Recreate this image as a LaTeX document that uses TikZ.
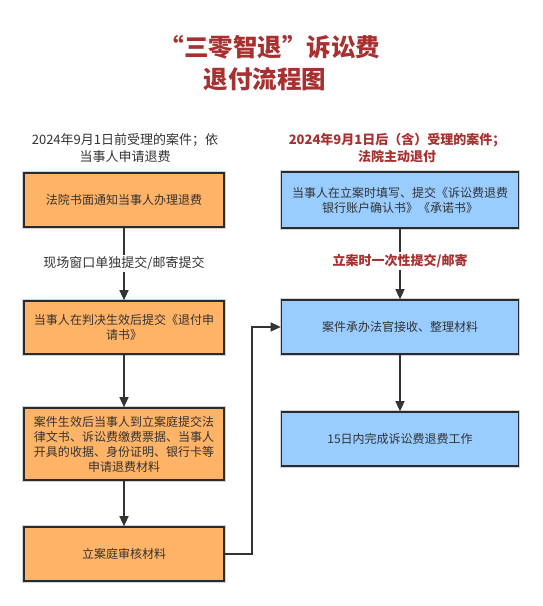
\documentclass[tikz,border=0pt]{standalone}
\usepackage{fontspec}
\setmainfont{Noto Sans CJK SC}
\usetikzlibrary{arrows.meta}
\definecolor{titlered}{RGB}{168,48,48}
\definecolor{txtgray}{RGB}{51,51,51}
\definecolor{boxorange}{RGB}{255,179,102}
\definecolor{boxblue}{RGB}{153,204,255}
\definecolor{edgedark}{RGB}{40,44,48}
\tikzset{
  box/.style={draw=edgedark, line width=1.6bp, text=txtgray, align=center,
    font=\fontsize{12bp}{15bp}\selectfont, inner sep=0pt,
    preaction={draw=gray!35, line width=3.2bp}},
  obox/.style={box, fill=boxorange, minimum width=200bp},
  bbox/.style={box, fill=boxblue, minimum width=237bp},
  conn/.style={draw=txtgray, line width=1.3bp, -{Triangle[length=10bp,width=9bp]}},
  titletext/.style={text=titlered, font=\fontsize{24.5bp}{28bp}\selectfont\bfseries, inner sep=0pt},
  headgray/.style={text=txtgray, align=center, font=\fontsize{13bp}{17bp}\selectfont, inner sep=0pt},
  headred/.style={text=titlered, align=center, font=\fontsize{13bp}{17bp}\selectfont\bfseries, inner sep=0pt},
  lbl/.style={fill=white, inner sep=2bp, font=\fontsize{13bp}{15bp}\selectfont}
}
\begin{document}
\begin{tikzpicture}[x=1bp, y=-1bp]
\useasboundingbox[fill=white] (0,0) rectangle (543,606);
% titles
\node[titletext] (t1) at (270,47) {“三零智退”诉讼费};
\node[titletext] (t2) at (265,79) {退付流程图};
% headers
\node[headgray] (hl) at (125,148) {2024年9月1日前受理的案件；依\\当事人申请退费};
\node[headred] (hr) at (397,148) {2024年9月1日后（含）受理的案件；\\法院主动退付};
% left boxes
\node[obox, minimum height=54bp] (l1) at (124,200) {法院书面通知当事人办理退费};
\node[obox, minimum height=53bp] (l2) at (124,327.5) {当事人在判决生效后提交《退付申\\请书》};
\node[obox, minimum height=72bp] (l3) at (124,444) {案件生效后当事人到立案庭提交法\\律文书、诉讼费缴费票据、当事人\\开具的收据、身份证明、银行卡等\\申请退费材料};
\node[obox, minimum height=54bp] (l4) at (124,554) {立案庭审核材料};
% right boxes
\node[bbox, minimum height=56bp] (r1) at (400,200) {当事人在立案时填写、提交《诉讼费退费\\银行账户确认书》《承诺书》};
\node[bbox, minimum height=54bp] (r2) at (400,327) {案件承办法官接收、整理材料};
\node[bbox, minimum height=54bp] (r3) at (400,439) {15日内完成诉讼费退费工作};
% connectors
\draw[conn] (l1) -- node[lbl, text=txtgray, pos=0.49] (la) {现场窗口单独提交/邮寄提交} (l2);
\draw[conn] (l2) -- (l3);
\draw[conn] (l3) -- (l4);
\draw[conn] (r1) -- node[lbl, text=titlered, font=\fontsize{13bp}{15bp}\selectfont\bfseries, pos=0.46] (ra) {立案时一次性提交/邮寄} (r2);
\draw[conn] (r2) -- (r3);
\coordinate (c1) at (252,554);
\coordinate (c2) at (252,327);
\draw[conn] (l4.east) -- (c1) -- (c2) -- (r2.west);
\end{tikzpicture}
\end{document}
